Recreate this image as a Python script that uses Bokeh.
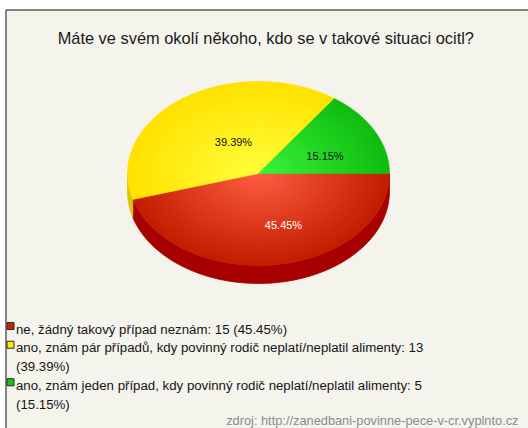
import numpy as np
from bokeh.plotting import figure
from bokeh.models import Range1d
from bokeh.core.properties import value
from bokeh.embed import file_html
from bokeh.resources import INLINE

# ---------------- data ----------------
title_text = "Máte ve svém okolí někoho, kdo se v takové situaci ocitl?"
categories = [
    "ne, žádný takový případ neznám",
    "ano, znám pár případů, kdy povinný rodič neplatí/neplatil alimenty",
    "ano, znám jeden případ, kdy povinný rodič neplatí/neplatil alimenty",
]
counts = [15, 13, 5]
source_note = "zdroj: http://zanedbani-povinne-pece-v-cr.vyplnto.cz"

# ---------------- styles / layout ----------------
edge_colors = ["#c41d00", "#ffe200", "#0fbd0f"]
center_colors = ["#ff6044", "#ffff3c", "#3cf43c"]
side_colors = ["#a60000", "#dcc200", "#0a980a"]
legend_colors = ["#cc2200", "#ffea00", "#11c811"]
label_colors = ["#ffffff", "#111111", "#111111"]
label_offsets = [(25, -51), (-25, 31.5), (66.5, 17.5)]
FONT = "Liberation Sans"
W, H = 528, 428
BG = "#f4f3ec"

cx, cy = 258.0, H - 173.0      # pie centre (canvas px, y up)
rx, ry, depth = 131.0, 92.0, 18.0


def to_hex(rgb):
    return "#%02x%02x%02x" % tuple(int(round(c)) for c in rgb)


def from_hex(h):
    h = h.lstrip("#")
    return np.array([int(h[i:i + 2], 16) for i in (0, 2, 4)], dtype=float)


p = figure(width=W, height=H, x_range=Range1d(0, W), y_range=Range1d(0, H),
           toolbar_location=None, output_backend="svg",
           x_axis_type=None, y_axis_type=None, min_border=0,
           outline_line_color=None, background_fill_color="white",
           border_fill_color="white")
p.grid.visible = False

# frame background + top/left border
top_edge = H - 9.5
p.quad(left=[5], right=[W], bottom=[0], top=[top_edge], fill_color=BG, line_color=None)
p.multi_line(xs=[[5.5, 5.5], [5.5, W]], ys=[[0, top_edge], [top_edge, top_edge]],
             line_color="#111111", line_width=1)

# angles: start at 0 going clockwise
vals = np.array(counts, dtype=float)
fracs = vals / vals.sum()
ends = -2 * np.pi * np.cumsum(fracs)
starts = np.concatenate([[0.0], ends[:-1]])

# side faces (visible part: angles between pi and 2pi in ccw terms)
side_xs, side_ys, side_fc = [], [], []
for i in range(len(counts)):
    lo = ends[i] % (2 * np.pi)
    hi = starts[i] % (2 * np.pi)
    if hi <= lo:
        hi += 2 * np.pi
    a = max(lo, np.pi)
    b = min(hi, 2 * np.pi)
    if b > a:
        th = np.linspace(a, b, 80)
        xt = cx + rx * np.cos(th)
        yt = cy + ry * np.sin(th)
        side_xs.append(list(xt) + list(xt[::-1]))
        side_ys.append(list(yt) + list((yt - depth)[::-1]))
        side_fc.append(side_colors[i])
p.patches(side_xs, side_ys, fill_color=side_fc, line_color=side_fc, line_width=0.8)

# top faces with stepped radial gradient
layers = np.linspace(1.0, 0.04, 26)
top_xs, top_ys, top_fc = [], [], []
for s in layers:
    for i in range(len(counts)):
        th = np.linspace(starts[i], ends[i], 90)
        xs = [cx] + list(cx + s * rx * np.cos(th))
        ys = [cy] + list(cy + s * ry * np.sin(th))
        col = to_hex(from_hex(edge_colors[i]) * s + from_hex(center_colors[i]) * (1 - s))
        top_xs.append(xs)
        top_ys.append(ys)
        top_fc.append(col)
p.patches(top_xs, top_ys, fill_color=top_fc, line_color=top_fc, line_width=0.6)

# percentage labels
pct = [f"{f * 100:.2f}%" for f in fracs]
p.text(x=[cx + o[0] for o in label_offsets], y=[cy + o[1] for o in label_offsets],
       text=pct, text_color=label_colors, text_font=value(FONT),
       text_font_size=value("11px"), text_align="center", text_baseline="middle")

# title
p.text(x=[265.3], y=[H - 37.7], text=[title_text], text_color="#1a1a1a",
       text_font=value(FONT), text_font_size=value("16.4px"),
       text_align="center", text_baseline="alphabetic")

# legend
line_h = 18.75
first_base = H - 328.5
lx_sq, lx_txt = 10.0, 15.5
rows_txt, rows_y = [], []
sq_x, sq_y, sq_c = [], [], []
row = 0
for i, cat in enumerate(categories):
    full = f"{cat}: {counts[i]}"
    sq_x.append(lx_sq)
    sq_y.append(first_base - row * line_h + 3)
    sq_c.append(legend_colors[i])
    if len(full) > 50:
        rows_txt += [full, f"({pct[i]})"]
    else:
        rows_txt += [f"{full} ({pct[i]})"]
    for _ in range(len(rows_txt) - len(rows_y)):
        rows_y.append(first_base - row * line_h)
        row += 1
p.rect(x=sq_x, y=sq_y, width=7, height=7, fill_color=sq_c, line_color="#2a2a2a", line_width=1)
p.text(x=[lx_txt] * len(rows_txt), y=rows_y, text=rows_txt, text_color="#151515",
       text_font=value(FONT), text_font_size=value("13.25px"),
       text_align="left", text_baseline="alphabetic")

# source note
p.text(x=[518], y=[H - 420], text=[source_note], text_color="#8c8c8c",
       text_font=value(FONT), text_font_size=value("12.8px"),
       text_align="right", text_baseline="alphabetic")

open("out.html", "w").write(file_html(p, INLINE))
